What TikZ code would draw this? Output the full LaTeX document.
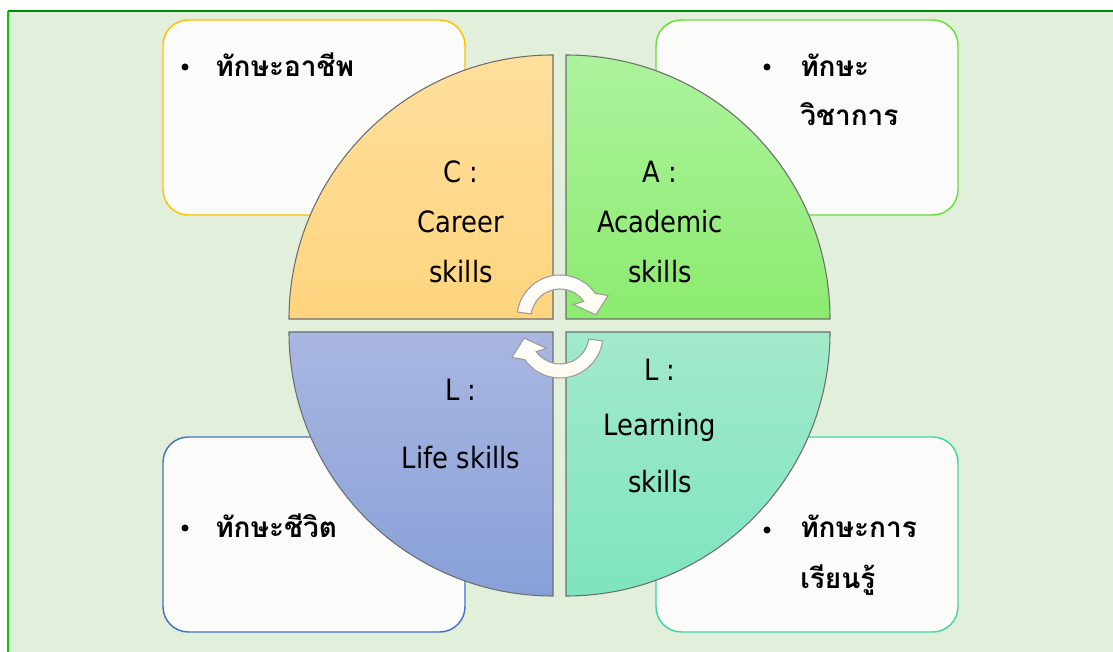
\documentclass[tikz,border=0pt]{standalone}
\usepackage{fontspec}
\newfontfamily\thaifont[Script=Thai]{Loma}
\newfontfamily\engfont[FakeStretch=0.88]{DejaVu Sans}
\usetikzlibrary{calc}
\definecolor{bgfill}{HTML}{E2EFDA}
\definecolor{boxfill}{HTML}{FBFBF9}
\definecolor{careerline}{HTML}{FFC000}
\definecolor{academicline}{HTML}{66E03A}
\definecolor{lifeline}{HTML}{4472C4}
\definecolor{learnline}{HTML}{3DD9A0}
\definecolor{quadline}{HTML}{6E6E6E}
\definecolor{arrowfill}{HTML}{FFFAEE}
\definecolor{arrowline}{HTML}{9C9C9C}
\definecolor{careertop}{HTML}{FFDF9C}
\definecolor{careerbot}{HTML}{FFD47E}
\definecolor{academictop}{HTML}{ACF39D}
\definecolor{academicbot}{HTML}{8CEB6F}
\definecolor{lifetop}{HTML}{A9B7E1}
\definecolor{lifebot}{HTML}{88A0D8}
\definecolor{learntop}{HTML}{A2E9CB}
\definecolor{learnbot}{HTML}{7DE5BE}

\tikzset{turnarrow/.pic={
  \shadedraw[turn] (172:43) arc[start angle=172,end angle=35,radius=43] -- (25:53) -- (5:36) -- (45:19) -- (35:29) arc[start angle=35,end angle=172,radius=29] -- cycle;
}}

\begin{document}
\begin{tikzpicture}[x=0.75pt,y=0.75pt,
  skillbox/.style={fill=boxfill,line width=1.1pt,rounded corners=19pt},
  quarter/.style={draw=quadline,line width=0.8pt},
  engtext/.style={font=\engfont\fontsize{22}{26}\selectfont,anchor=base,inner sep=0pt},
  thaitext/.style={font=\thaifont\bfseries\fontsize{21}{26}\selectfont,anchor=base west,inner sep=0pt},
  turn/.style={top color=white,bottom color=arrowfill,draw=arrowline,line width=0.8pt}]
\useasboundingbox (0,0) rectangle (1113,652);
\fill[bgfill] (8,-5) rectangle (1120,641);%background
\draw[green!55!black,line width=1pt] (8,641) -- (1120,641);
\draw[green!80!black,line width=1pt] (8,641) -- (8,-5);
% boxes behind the circle
\draw[skillbox,draw=careerline] (163,437) rectangle (465,632);
\draw[skillbox,draw=academicline] (656,437) rectangle (958,632);
\draw[skillbox,draw=lifeline] (163,20) rectangle (465,215);
\draw[skillbox,draw=learnline] (656,20) rectangle (958,215);
% four quarters
\shadedraw[quarter,top color=careertop,bottom color=careerbot] (553,333) -- ++(-264,0) arc[start angle=180,end angle=90,radius=264] -- cycle;
\shadedraw[quarter,top color=academictop,bottom color=academicbot] (566,333) -- ++(0,264) arc[start angle=90,end angle=0,radius=264] -- cycle;
\shadedraw[quarter,top color=lifetop,bottom color=lifebot] (553,320) -- ++(0,-264) arc[start angle=270,end angle=180,radius=264] -- cycle;
\shadedraw[quarter,top color=learntop,bottom color=learnbot] (566,320) -- ++(264,0) arc[start angle=0,end angle=-90,radius=264] -- cycle;
% turning arrows
\pic at (560,334) {turnarrow};
\pic[rotate=180] at (560,317) {turnarrow};
% skill names
\node[engtext] (cTitle) at (461,469) {C :};
\node[engtext] (cName) at (461,419) {Career};
\node[engtext] (cSkills) at (461,369) {skills};
\node[engtext] (aTitle) at (660,469) {A :};
\node[engtext] (aName) at (660,419) {Academic};
\node[engtext] (aSkills) at (660,369) {skills};
\node[engtext] (lifeTitle) at (461,251) {L :};
\node[engtext] (lifeName) at (461,183) {Life skills};
\node[engtext] (learnTitle) at (660,271) {L :};
\node[engtext] (learnName) at (660,216) {Learning};
\node[engtext] (learnSkills) at (660,159) {skills};
% thai bullets
\fill (185,585) circle (3.5);
\node[thaitext] (cThai) at (215,575) {ทักษะอาชีพ};
\fill (767,585) circle (3.5);
\node[thaitext] (aThai) at (800,575) {ทักษะ};
\node[thaitext] (aThaiB) at (800,526) {วิชาการ};
\fill (185,124) circle (3.5);
\node[thaitext] (lifeThai) at (215,114) {ทักษะชีวิต};
\fill (767,122) circle (3.5);
\node[thaitext] (learnThai) at (800,114) {ทักษะการ};
\node[thaitext] (learnThaiB) at (800,63) {เรียนรู้};
\end{tikzpicture}
\end{document}
